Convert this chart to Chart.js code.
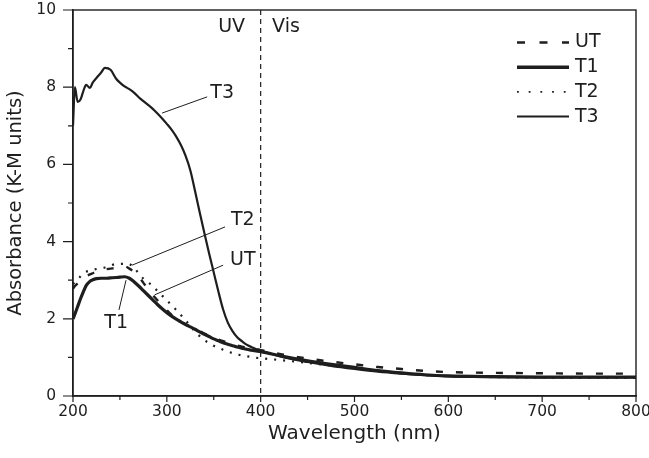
<!DOCTYPE html>
<html>
<head>
<meta charset="utf-8">
<script src="https://cdn.jsdelivr.net/npm/chart.js@4.4.1/dist/chart.umd.min.js"></script>
<style>
  html, body { margin: 0; padding: 0; background: #fff; }
  #wrap { width: 649px; height: 458px; position: relative; }
</style>
</head>
<body>
<div id="wrap"><canvas id="myChart"></canvas></div>
<script>
const wavelength = [200,202,205,208,211,214,218,221,225,230,234,240,246,250,255,260,265,270,275,280,285,290,295,300,305,310,315,320,325,330,335,340,345,350,355,360,365,370,375,380,385,390,395,400,425,450,475,500,525,550,575,600,650,700,750,800];

const utValues = [2.78,2.85,2.92,2.98,3.04,3.1,3.15,3.18,3.22,3.26,3.28,3.3,3.32,3.34,3.36,3.3,3.22,3.1,2.93,2.77,2.62,2.48,2.35,2.22,2.1,1.99,1.92,1.86,1.8,1.74,1.68,1.62,1.56,1.51,1.46,1.42,1.38,1.34,1.31,1.28,1.25,1.23,1.21,1.19,1.07,0.97,0.89,0.82,0.75,0.7,0.65,0.62,0.6,0.59,0.58,0.58];
const t1Values = [2.0,2.12,2.32,2.52,2.7,2.86,2.97,3.01,3.04,3.05,3.05,3.06,3.07,3.08,3.09,3.05,2.96,2.85,2.73,2.61,2.49,2.37,2.26,2.16,2.07,1.99,1.92,1.85,1.79,1.73,1.66,1.6,1.54,1.48,1.43,1.38,1.34,1.3,1.27,1.24,1.21,1.19,1.17,1.15,1.02,0.91,0.82,0.74,0.66,0.6,0.55,0.52,0.5,0.49,0.49,0.49];
const t2Values = [2.9,2.95,3.02,3.1,3.18,3.22,3.25,3.27,3.29,3.31,3.33,3.38,3.42,3.42,3.43,3.42,3.32,3.18,3.04,2.94,2.86,2.72,2.6,2.48,2.35,2.23,2.1,1.96,1.82,1.67,1.55,1.45,1.37,1.3,1.25,1.2,1.15,1.11,1.08,1.05,1.03,1.01,0.99,0.98,0.92,0.86,0.79,0.72,0.65,0.59,0.54,0.51,0.49,0.48,0.47,0.47];
const t3Values = [7.0,8.0,7.62,7.68,7.9,8.06,7.98,8.12,8.24,8.38,8.5,8.45,8.22,8.12,8.02,7.95,7.86,7.74,7.64,7.54,7.44,7.32,7.19,7.05,6.9,6.72,6.5,6.22,5.85,5.32,4.76,4.22,3.7,3.2,2.7,2.24,1.9,1.68,1.52,1.42,1.33,1.27,1.22,1.18,1.0,0.88,0.78,0.7,0.63,0.58,0.54,0.51,0.49,0.48,0.48,0.48];

const seriesNames = ['UT', 'T1', 'T2', 'T3'];
const xTickLabels = [200, 300, 400, 500, 600, 700, 800];
const yTickLabels = [0, 2, 4, 6, 8, 10];

// leader-line labels, in data units (nm, absorbance)
const notes = [
  {text: 'T3', at: [359, 7.85], from: [295, 7.33], to: [343, 7.75]},
  {text: 'T2', at: [381, 4.55], from: [263, 3.39], to: [362, 4.38]},
  {text: 'UT', at: [381, 3.51], from: [287, 2.62], to: [360, 3.39]},
  {text: 'T1', at: [246, 1.88], from: [256.5, 3.0], to: [249, 2.23]}
];
const regionLabels = [{text: 'UV', at: [369, 9.55]}, {text: 'Vis', at: [427, 9.55]}];
const boundary = 400;

const ink = '#1e1e1e';
const fontFamily = '"DejaVu Sans", "Liberation Sans", Arial, sans-serif';

function points(vals) {
  return vals.map((v, i) => ({x: wavelength[i], y: v}));
}

const styles = [
  {width: 2.4, dash: [7, 13]},
  {width: 3.2, dash: []},
  {width: 2.2, dash: [2, 7]},
  {width: 2.2, dash: []}
];
const legendStyles = [
  {width: 2.6, dash: [8, 14.5]},
  {width: 3.4, dash: []},
  {width: 1.8, dash: [1.8, 9.9]},
  {width: 2.0, dash: []}
];

const allValues = [utValues, t1Values, t2Values, t3Values];
const data = {
  datasets: seriesNames.map((name, i) => ({
    label: name,
    data: points(allValues[i]),
    borderColor: ink,
    borderWidth: styles[i].width,
    borderDash: styles[i].dash,
    pointRadius: 0,
    fill: false,
    cubicInterpolationMode: 'monotone'
  }))
};

const extras = {
  id: 'extras',
  afterDraw(chart) {
    const ctx = chart.ctx;
    const a = chart.chartArea;
    const xs = chart.scales.x, ys = chart.scales.y;
    const px = (v) => xs.getPixelForValue(v);
    const py = (v) => ys.getPixelForValue(v);
    ctx.save();
    ctx.strokeStyle = ink;
    ctx.fillStyle = ink;

    // frame
    ctx.lineWidth = 1.4;
    ctx.strokeRect(a.left, a.top, a.right - a.left, a.bottom - a.top);

    // ticks
    ctx.lineWidth = 1.2;
    ctx.beginPath();
    for (let v = 200; v <= 800; v += 50) {
      const len = v % 100 === 0 ? 6 : 4;
      ctx.moveTo(px(v), a.bottom);
      ctx.lineTo(px(v), a.bottom + len);
    }
    for (let v = 0; v <= 10; v += 1) {
      const len = v % 2 === 0 ? 10 : 5;
      ctx.moveTo(a.left, py(v));
      ctx.lineTo(a.left - len, py(v));
    }
    ctx.stroke();

    // UV / Vis boundary
    ctx.setLineDash([5, 4]);
    ctx.lineWidth = 1.2;
    ctx.beginPath();
    ctx.moveTo(px(boundary), a.top);
    ctx.lineTo(px(boundary), a.bottom);
    ctx.stroke();
    ctx.setLineDash([]);

    ctx.font = '19px ' + fontFamily;
    ctx.textAlign = 'center';
    ctx.textBaseline = 'middle';
    regionLabels.forEach(r => ctx.fillText(r.text, px(r.at[0]), py(r.at[1])));

    // leader lines
    ctx.lineWidth = 1;
    notes.forEach(n => {
      ctx.beginPath();
      ctx.moveTo(px(n.from[0]), py(n.from[1]));
      ctx.lineTo(px(n.to[0]), py(n.to[1]));
      ctx.stroke();
      ctx.fillText(n.text, px(n.at[0]), py(n.at[1]));
    });

    // legend
    ctx.textAlign = 'left';
    const lx0 = a.right - 119, lx1 = a.right - 67, tx = a.right - 61;
    seriesNames.forEach((name, i) => {
      const y = a.top + 32.5 + i * 24.7;
      ctx.lineWidth = legendStyles[i].width;
      ctx.setLineDash(legendStyles[i].dash);
      ctx.beginPath();
      ctx.moveTo(lx0, y);
      ctx.lineTo(lx1, y);
      ctx.stroke();
      ctx.setLineDash([]);
      ctx.fillText(name, tx, y);
    });
    ctx.restore();
  }
};

const config = {
  type: 'line',
  data: data,
  options: {
    responsive: true,
    maintainAspectRatio: false,
    animation: false,
    devicePixelRatio: 1,
    layout: {padding: {top: 10, right: 13, left: 0, bottom: 0}},
    plugins: {
      legend: {display: false},
      tooltip: {enabled: false}
    },
    scales: {
      x: {
        type: 'linear',
        min: 200,
        max: 800,
        afterFit: (s) => { s.height = 62; s.paddingLeft = 0; s.paddingRight = 0; },
        afterBuildTicks: (s) => { s.ticks = xTickLabels.map(v => ({value: v})); },
        grid: {display: false, drawTicks: false},
        border: {display: true, color: ink, width: 1.4},
        ticks: {color: ink, font: {family: fontFamily, size: 15.5}, padding: 7, maxRotation: 0},
        title: {display: true, text: 'Wavelength (nm)', color: ink, font: {family: fontFamily, size: 20}, padding: {top: 0, bottom: 12}}
      },
      y: {
        type: 'linear',
        min: 0,
        max: 10,
        afterFit: (s) => { s.width = 73; s.paddingTop = 0; s.paddingBottom = 0; },
        afterBuildTicks: (s) => { s.ticks = yTickLabels.map(v => ({value: v})); },
        grid: {display: false, drawTicks: false},
        border: {display: true, color: ink, width: 1.4},
        ticks: {color: ink, font: {family: fontFamily, size: 15.5}, padding: 17},
        title: {display: true, text: 'Absorbance (K-M units)', color: ink, font: {family: fontFamily, size: 19.5}, padding: {top: 4, bottom: 0}}
      }
    }
  },
  plugins: [extras]
};

const myChart = new Chart(document.getElementById('myChart'), config);
</script>
</body>
</html>
